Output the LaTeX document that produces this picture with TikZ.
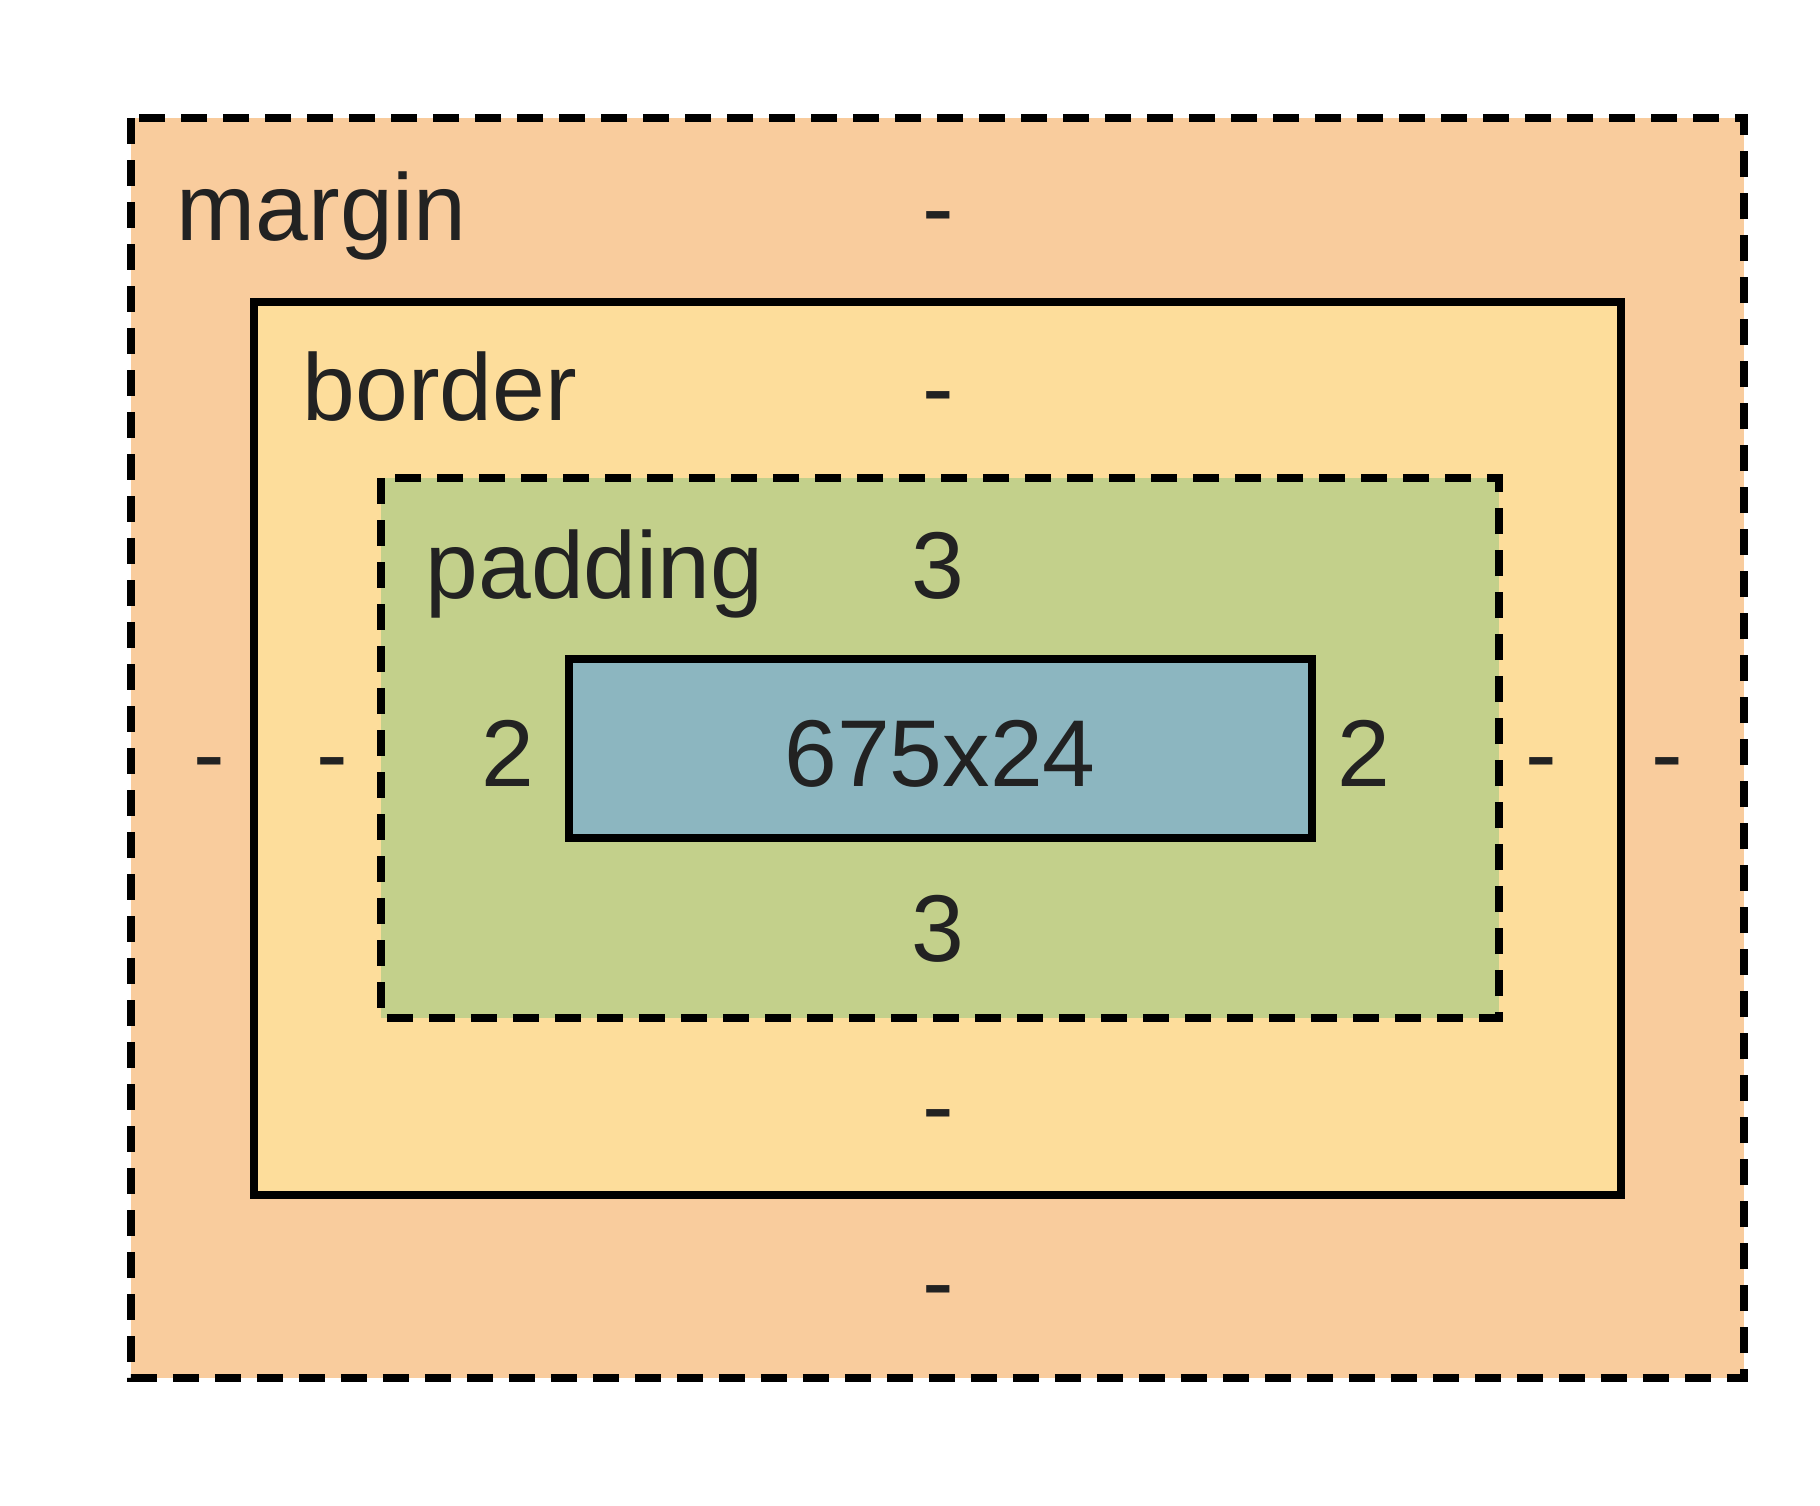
\documentclass[tikz,border=0pt]{standalone}
\usepackage{fontspec}
\setmainfont{Liberation Sans}
\usepackage{xcolor}
\usepackage{tikz}
\definecolor{marginorange}{RGB}{249,204,157}
\definecolor{borderyellow}{RGB}{253,221,155}
\definecolor{paddinggreen}{RGB}{195,208,139}
\definecolor{contentblue}{RGB}{140,182,192}
\definecolor{labelgray}{RGB}{34,34,34}

\tikzset{
  boxline/.style={line width=0.8mm},
  dashline/.style={boxline, dash pattern=on 2.6mm off 1.6mm},
  lbl/.style={inner sep=0pt, anchor=base west, text=labelgray},
  val/.style={inner sep=0pt, anchor=base, text=labelgray},
}

\begin{document}
\begin{tikzpicture}[x=0.1mm, y=-0.1mm, font=\fontsize{27}{32}\selectfont]
  \useasboundingbox (0,0) rectangle (1820,1505);
  % boxes, outside in
  \draw[dashline, fill=marginorange] (131,118) rectangle (1744,1378);
  \draw[boxline, fill=borderyellow] (254,302) rectangle (1621,1195);
  \draw[dashline, fill=paddinggreen] (381,478) rectangle (1499,1018);
  \draw[boxline, fill=contentblue] (569,659) rectangle (1312,838);
  % box names
  \node[lbl] (marginlbl) at (176,240) {margin};
  \node[lbl] (borderlbl) at (302,420) {border};
  \node[lbl] (paddinglbl) at (425,598) {padding};
  % top and bottom values
  \node[val] (margintop) at (938,240) {-};
  \node[val] (bordertop) at (938,420) {-};
  \node[val] (paddingtop) at (938,598) {3};
  \node[val] (paddingbot) at (938,961) {3};
  \node[val] (borderbot) at (938,1138) {-};
  \node[val] (marginbot) at (938,1314) {-};
  % middle row
  \node[val] (marginleft) at (209,786) {-};
  \node[val] (borderleft) at (332,786) {-};
  \node[val] (paddingleft) at (508,786) {2};
  \node[val] (content) at (940,786) {675x24};
  \node[val] (paddingright) at (1364,786) {2};
  \node[val] (borderright) at (1541,786) {-};
  \node[val] (marginright) at (1667,786) {-};
\end{tikzpicture}
\end{document}
